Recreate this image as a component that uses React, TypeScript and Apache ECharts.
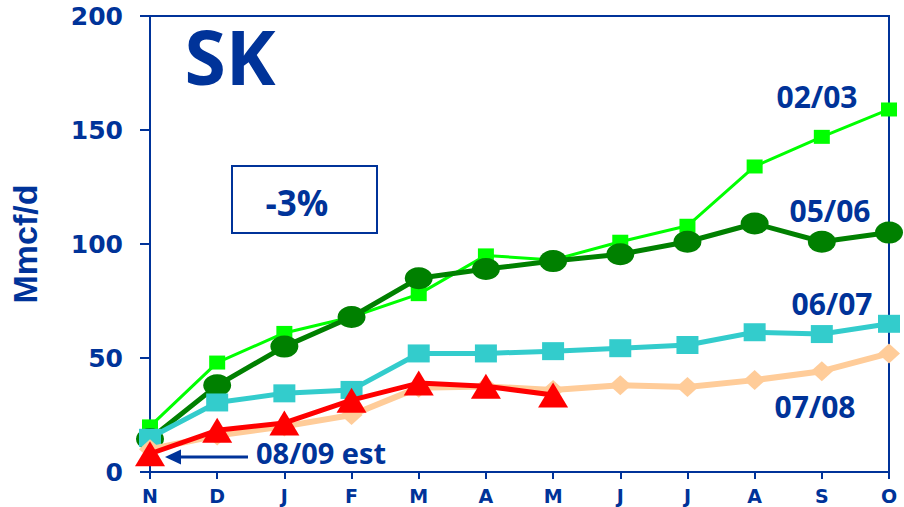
import React, { useEffect, useRef } from "react";
import * as echarts from "echarts";

const months = ["N", "D", "J", "F", "M", "A", "M", "J", "J", "A", "S", "O"];
const s0203 = [20, 48, 61, 68, 78, 95, 93, 101, 108, 134, 147, 159];
const s0506 = [14.5, 38, 55, 68, 85, 89, 92.5, 95.5, 101, 109, 101, 105];
const s0607 = [15, 30.5, 34.5, 36, 52, 52, 53, 54.3, 55.7, 61.3, 60.5, 65];
const s0708 = [10, 16, 20, 25, 37, 37.5, 36, 38, 37.3, 40.3, 44.2, 52];
const s0809 = [8, 18.3, 21.5, 31.5, 39, 37.6, 33.8];
const yTicks = [0, 50, 100, 150, 200];

const BLUE = "#003399";

export default function App() {
  const ref = useRef<HTMLDivElement>(null);
  useEffect(() => {
    if (!ref.current) return;
    const chart = echarts.init(ref.current, undefined, { renderer: "svg" });
    const labelFont = { fontFamily: "Open Sans", fontWeight: "bold" as const, fill: BLUE };
    chart.setOption({
      animation: false,
      backgroundColor: "#ffffff",
      grid: {
        left: 150,
        right: 15,
        top: 16,
        bottom: 35,
        containLabel: false,
        outerBoundsMode: "none",
        show: true,
        borderColor: BLUE,
        borderWidth: 2,
        backgroundColor: "transparent",
      },
      xAxis: {
        type: "category",
        data: months,
        boundaryGap: false,
        axisLine: { lineStyle: { color: BLUE, width: 2 } },
        axisTick: { show: true, length: 7, inside: false, lineStyle: { color: BLUE, width: 2 } },
        axisLabel: {
          color: BLUE,
          fontFamily: "DejaVu Sans",
          fontWeight: "bold",
          fontSize: 19,
          margin: 14,
          interval: 0,
        },
        splitLine: { show: false },
      },
      yAxis: {
        type: "value",
        min: yTicks[0],
        max: yTicks[yTicks.length - 1],
        interval: 50,
        name: "Mmcf/d",
        nameLocation: "middle",
        nameRotate: 90,
        nameGap: 108,
        nameTextStyle: {
          color: BLUE,
          fontFamily: "Liberation Sans",
          fontWeight: "bold",
          fontSize: 34,
        },
        axisLine: { show: true, lineStyle: { color: BLUE, width: 2 } },
        axisTick: { show: true, length: 10, lineStyle: { color: BLUE, width: 2 } },
        axisLabel: {
          color: BLUE,
          fontFamily: "DejaVu Sans",
          fontWeight: "bold",
          fontSize: 25,
          margin: 27,
        },
        splitLine: { show: false },
      },
      series: [
        {
          name: "02/03",
          type: "line",
          data: s0203,
          symbol: "rect",
          symbolSize: [16, 14],
          lineStyle: { color: "#00FF00", width: 3 },
          itemStyle: { color: "#00FF00" },
          z: 2,
        },
        {
          name: "05/06",
          type: "line",
          data: s0506,
          symbol: "circle",
          symbolSize: [28, 22],
          lineStyle: { color: "#008000", width: 5 },
          itemStyle: { color: "#008000" },
          z: 3,
        },
        {
          name: "06/07",
          type: "line",
          data: s0607,
          symbol: "rect",
          symbolSize: [22, 18],
          lineStyle: { color: "#33CCCC", width: 5 },
          itemStyle: { color: "#33CCCC" },
          z: 4,
        },
        {
          name: "07/08",
          type: "line",
          data: s0708,
          symbol: "diamond",
          symbolSize: [22, 20],
          lineStyle: { color: "#FFCC99", width: 6 },
          itemStyle: { color: "#FFCC99" },
          z: 5,
        },
        {
          name: "08/09 est",
          type: "line",
          data: s0809,
          symbol: "triangle",
          symbolSize: [30, 25],
          lineStyle: { color: "#FF0000", width: 5 },
          itemStyle: { color: "#FF0000" },
          z: 6,
        },
      ],
      graphic: [
        {
          type: "text",
          x: 230,
          y: 56,
          z: 10,
          style: {
            text: "SK",
            ...labelFont,
            fontSize: 75,
            align: "center",
            verticalAlign: "middle",
          },
        },
        {
          type: "rect",
          shape: { x: 232, y: 166, width: 145, height: 67 },
          z: 10,
          style: { fill: "#ffffff", stroke: BLUE, lineWidth: 2 },
        },
        {
          type: "text",
          x: 297,
          y: 202,
          z: 11,
          style: {
            text: "-3%",
            fontFamily: "Open Sans",
            fontWeight: "bold",
            fill: BLUE,
            fontSize: 35,
            align: "center",
            verticalAlign: "middle",
          },
        },
        {
          type: "text",
          x: 256,
          y: 452,
          z: 11,
          style: {
            text: "08/09 est",
            fontFamily: "Open Sans",
            fontWeight: "bold",
            fill: BLUE,
            fontSize: 29,
            align: "left",
            verticalAlign: "middle",
          },
        },
        {
          type: "line",
          z: 11,
          shape: { x1: 178, y1: 457, x2: 248, y2: 457 },
          style: { stroke: BLUE, lineWidth: 3 },
        },
        {
          type: "polygon",
          z: 11,
          shape: { points: [[165, 457], [181, 449.5], [181, 464.5]] },
          style: { fill: BLUE },
        },
        {
          type: "text",
          x: 817,
          y: 96,
          z: 11,
          style: { text: "02/03", ...labelFont, fontSize: 30, align: "center", verticalAlign: "middle" },
        },
        {
          type: "text",
          x: 830,
          y: 210,
          z: 11,
          style: { text: "05/06", ...labelFont, fontSize: 30, align: "center", verticalAlign: "middle" },
        },
        {
          type: "text",
          x: 832,
          y: 303,
          z: 11,
          style: { text: "06/07", ...labelFont, fontSize: 30, align: "center", verticalAlign: "middle" },
        },
        {
          type: "text",
          x: 815,
          y: 406,
          z: 11,
          style: { text: "07/08", ...labelFont, fontSize: 30, align: "center", verticalAlign: "middle" },
        },
      ],
    });
    return () => chart.dispose();
  }, []);
  return <div ref={ref} style={{ width: 904, height: 507, position: "absolute", left: 0, top: 0 }} />;
}
